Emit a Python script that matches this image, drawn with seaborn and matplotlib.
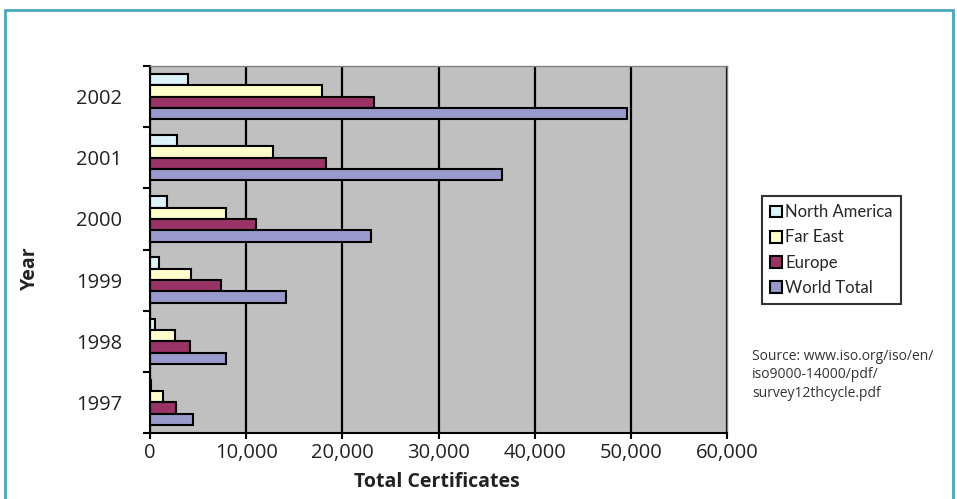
import matplotlib
matplotlib.use("Agg")
import matplotlib.pyplot as plt
from matplotlib.patches import Patch, Rectangle
from matplotlib.ticker import FixedLocator, FuncFormatter
import pandas as pd
import seaborn as sns

# values
years = ["2002", "2001", "2000", "1999", "1998", "1997"]
regions = ["North America", "Far East", "Europe", "World Total"]
north_america = [4000, 2800, 1750, 950, 500, 100]
far_east = [17900, 12800, 7900, 4300, 2600, 1400]
europe = [23300, 18300, 11000, 7400, 4200, 2700]
world_total = [49600, 36600, 23000, 14100, 7900, 4500]
xticks = [0, 10000, 20000, 30000, 40000, 50000, 60000]
colors = ["#dcf3f9", "#ffffcc", "#993366", "#9999cc"]

source_note = "Source: www.iso.org/iso/en/\niso9000-14000/pdf/\nsurvey12thcycle.pdf"


def build_frame():
    wide = pd.DataFrame({
        "Year": years,
        "North America": north_america,
        "Far East": far_east,
        "Europe": europe,
        "World Total": world_total,
    })
    return wide.melt(id_vars="Year", var_name="Region", value_name="Certificates")


def main():
    sns.set_theme(style="ticks")
    plt.rcParams["font.family"] = ["Open Sans", "DejaVu Sans"]

    df = build_frame()
    palette = dict(zip(regions, colors))

    fig = plt.figure(figsize=(9.57, 4.99), dpi=100)
    fig.patch.set_facecolor("white")
    ax = fig.add_axes([150 / 957, 66 / 499, 577 / 957, 367 / 499])
    ax.set_facecolor("#c0c0c0")

    sns.barplot(data=df, x="Certificates", y="Year", hue="Region",
                order=years, hue_order=regions, palette=palette,
                orient="h", width=0.74, saturation=1, errorbar=None,
                edgecolor="black", linewidth=1.5, legend=False, ax=ax)

    ax.set_xlim(0, 60000)
    ax.set_ylim(5.5, -0.5)
    ax.set_xticks(xticks)
    ax.xaxis.set_major_formatter(FuncFormatter(lambda v, p: f"{v:,.0f}"))
    ax.xaxis.grid(True, color="black", linewidth=1.6)
    ax.set_axisbelow(True)

    ax.set_yticks(range(len(years)))
    ax.set_yticklabels(years)
    ax.yaxis.set_minor_locator(FixedLocator([i - 0.5 for i in range(len(years) + 1)]))
    ax.tick_params(axis="y", which="major", length=0, pad=20, labelsize=14.5, labelcolor="#222222")
    ax.tick_params(axis="y", which="minor", length=5, width=1.5, color="black")
    ax.tick_params(axis="x", length=4, width=1.5, color="black", pad=3,
                   labelsize=14.5, labelcolor="#222222")

    ax.set_xlabel("")
    ax.set_ylabel("")
    for side in ["left", "bottom"]:
        ax.spines[side].set_color("black")
        ax.spines[side].set_linewidth(1.5)
    for side in ["top", "right"]:
        ax.spines[side].set_color("#808080")
        ax.spines[side].set_linewidth(1.0)

    handles = [Patch(facecolor=c, edgecolor="black", linewidth=1.5) for c in colors]
    leg = fig.legend(handles, regions, loc="upper left",
                     bbox_to_anchor=(762 / 957, 1 - 196 / 499),
                     bbox_transform=fig.transFigure, borderaxespad=0,
                     fancybox=False, frameon=True,
                     handlelength=0.7, handleheight=0.7, handletextpad=0.2,
                     labelspacing=0.55, borderpad=0.5,
                     prop={"family": ["Lato", "DejaVu Sans"], "size": 12})
    leg.get_frame().set_edgecolor("black")
    leg.get_frame().set_linewidth(1.5)

    fig.text(752 / 957, 1 - 349 / 499, source_note, ha="left", va="top",
             fontsize=10, linespacing=1.3, color="#333333")
    fig.text(30 / 957, 1 - 268 / 499, "Year", rotation=90, ha="center",
             va="center", fontsize=14, fontweight="bold", color="#222222")
    fig.text(437 / 957, 1 - 482 / 499, "Total Certificates", ha="center",
             va="center", fontsize=14, fontweight="bold", color="#222222")

    fig.patches.append(Rectangle((5 / 957, -0.02), 948 / 957, 0.02 + 1 - 10 / 499,
                                 transform=fig.transFigure, fill=False,
                                 edgecolor="#4aa6bd", linewidth=2))

    fig.savefig("out.png", dpi=100)
    plt.close(fig)


if __name__ == "__main__":
    main()
